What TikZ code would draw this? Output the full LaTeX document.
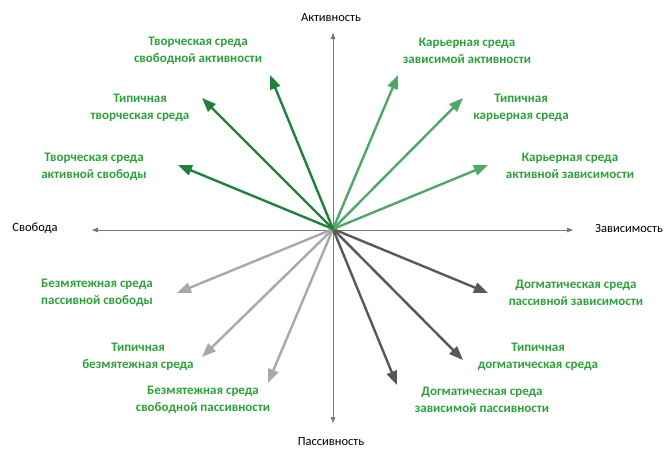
\documentclass[tikz,border=0pt]{standalone}
\usepackage{fontspec}
\setmainfont{Carlito}
\usetikzlibrary{arrows.meta}
\definecolor{dgreen}{RGB}{34,128,62}
\definecolor{lgreen}{RGB}{78,168,108}
\definecolor{lgray}{RGB}{168,168,168}
\definecolor{dgray}{RGB}{88,88,88}
\definecolor{axgray}{RGB}{120,120,120}
\definecolor{tgreen}{RGB}{46,160,58}
\tikzset{
  axis/.style={draw=axgray, line width=0.9pt, {Triangle[length=6pt,width=4.5pt]}-{Triangle[length=6pt,width=4.5pt]}},
  vec/.style={line width=2.4pt, -{Triangle[length=14pt,width=10.5pt]}},
  lab/.style={text=tgreen, font=\fontsize{13}{16.5}\selectfont\bfseries, align=center, inner sep=0pt},
  axlab/.style={text=black, font=\fontsize{12.5}{14}\selectfont, inner sep=0pt}
}
\begin{document}
\begin{tikzpicture}[x=1pt,y=-1pt]
\useasboundingbox (0,0) rectangle (665,450);
\coordinate (O) at (333,229);
% axes
\coordinate (up) at (333,33);
\coordinate (down) at (333,423);
\coordinate (left) at (92,230);
\coordinate (right) at (573,230);
\draw[axis] (down) -- (up);
\draw[axis] (left) -- (right);
\node[axlab] (la) at (331,18) {Активность};
\node[axlab] (lp) at (331,442) {Пассивность};
\node[axlab] (ls) at (35,228) {Свобода};
\node[axlab] (lz) at (629,228) {Зависимость};
% tips
\coordinate (t1) at (270,75);
\coordinate (t2) at (202,98);
\coordinate (t3) at (178,165);
\coordinate (t4) at (398,75);
\coordinate (t5) at (463,98);
\coordinate (t6) at (488,165);
\coordinate (t7) at (177,293);
\coordinate (t8) at (202,357);
\coordinate (t9) at (268,383);
\coordinate (t10) at (488,293);
\coordinate (t11) at (463,360);
\coordinate (t12) at (397,385);
\foreach \i in {7,8,9} \draw[vec, lgray] (O) -- (t\i);
\foreach \i in {10,11,12} \draw[vec, dgray] (O) -- (t\i);
\foreach \i in {4,5,6} \draw[vec, lgreen] (O) -- (t\i);
\foreach \i in {1,2,3} \draw[vec, dgreen] (O) -- (t\i);
% labels
\node[lab] (n1) at (198,51) {Творческая среда\\свободной активности};
\node[lab] (n2) at (140,108) {Типичная\\творческая среда};
\node[lab] (n3) at (94,167) {Творческая среда\\активной свободы};
\node[lab] (n4) at (467,51) {Карьерная среда\\зависимой активности};
\node[lab] (n5) at (521,108) {Типичная\\карьерная среда};
\node[lab] (n6) at (570,166) {Карьерная среда\\активной зависимости};
\node[lab] (n7) at (97,293) {Безмятежная среда\\пассивной свободы};
\node[lab] (n8) at (138,357) {Типичная\\безмятежная среда};
\node[lab] (n9) at (203,400) {Безмятежная среда\\свободной пассивности};
\node[lab] (n10) at (576,293) {Догматическая среда\\пассивной зависимости};
\node[lab] (n11) at (538,357) {Типичная\\догматическая среда};
\node[lab] (n12) at (482,400) {Догматическая среда\\зависимой пассивности};
\end{tikzpicture}
\end{document}
